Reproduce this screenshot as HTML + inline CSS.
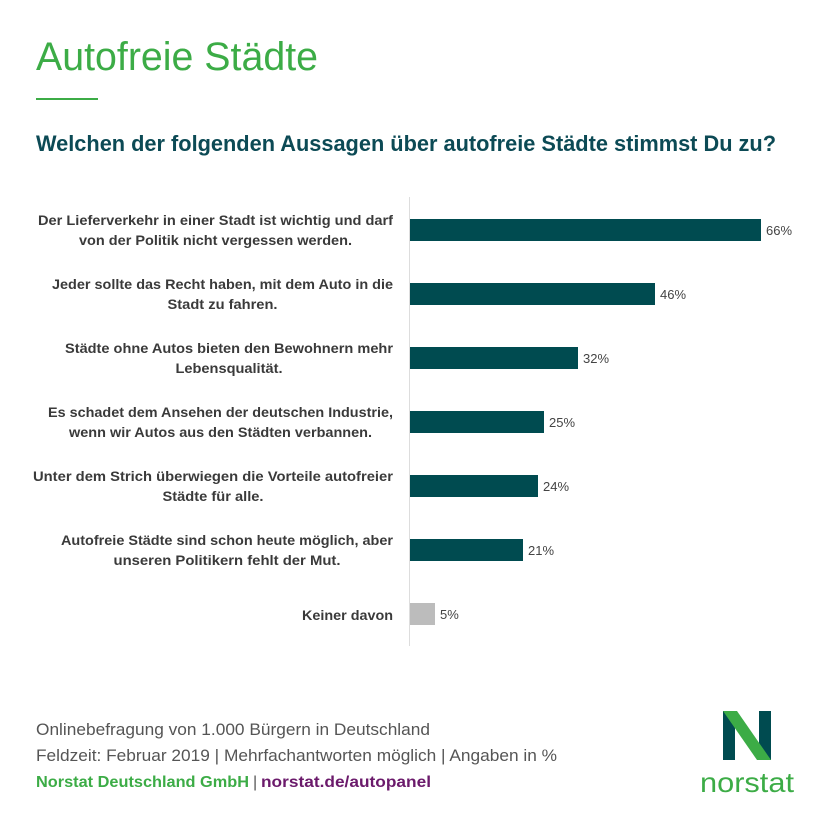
<!DOCTYPE html>
<html><head><meta charset="utf-8"><style>
html,body{margin:0;padding:0;background:#fff;}
svg{display:block;}
</style></head><body>
<svg width="819" height="820" xmlns="http://www.w3.org/2000/svg" font-family="'Liberation Sans Narrow','Liberation Sans',sans-serif">
<rect width="819" height="820" fill="#fff"/>
<text x="36" y="70" font-size="40" fill="#3cac46" textLength="282" lengthAdjust="spacingAndGlyphs">Autofreie Städte</text>
<rect x="36" y="98" width="62" height="2" fill="#3cac46"/>
<text x="36" y="151" font-size="22" font-weight="bold" fill="#0c4a55" textLength="740" lengthAdjust="spacingAndGlyphs">Welchen der folgenden Aussagen über autofreie Städte stimmst Du zu?</text>
<line x1="409.5" y1="197" x2="409.5" y2="646" stroke="#ddd" stroke-width="1"/>
<g font-size="14" font-weight="bold" fill="#3a3a3a" text-anchor="middle">
<text x="215.5" y="225" textLength="355" lengthAdjust="spacingAndGlyphs">Der Lieferverkehr in einer Stadt ist wichtig und darf</text>
<text x="215.5" y="245" textLength="273" lengthAdjust="spacingAndGlyphs">von der Politik nicht vergessen werden.</text>
<text x="222.5" y="289" textLength="341" lengthAdjust="spacingAndGlyphs">Jeder sollte das Recht haben, mit dem Auto in die</text>
<text x="222.5" y="309" textLength="110" lengthAdjust="spacingAndGlyphs">Stadt zu fahren.</text>
<text x="229" y="353" textLength="328" lengthAdjust="spacingAndGlyphs">Städte ohne Autos bieten den Bewohnern mehr</text>
<text x="229" y="373" textLength="107" lengthAdjust="spacingAndGlyphs">Lebensqualität.</text>
<text x="220.5" y="417" textLength="345" lengthAdjust="spacingAndGlyphs">Es schadet dem Ansehen der deutschen Industrie,</text>
<text x="220.5" y="437" textLength="303" lengthAdjust="spacingAndGlyphs">wenn wir Autos aus den Städten verbannen.</text>
<text x="213" y="481" textLength="360" lengthAdjust="spacingAndGlyphs">Unter dem Strich überwiegen die Vorteile autofreier</text>
<text x="213" y="501" textLength="101" lengthAdjust="spacingAndGlyphs">Städte für alle.</text>
<text x="227" y="545" textLength="332" lengthAdjust="spacingAndGlyphs">Autofreie Städte sind schon heute möglich, aber</text>
<text x="227" y="565" textLength="227" lengthAdjust="spacingAndGlyphs">unseren Politikern fehlt der Mut.</text>
<text x="347.5" y="620" textLength="91" lengthAdjust="spacingAndGlyphs">Keiner davon</text>
</g>
<g fill="#004b50">
<rect x="410" y="219" width="351" height="22"/>
<rect x="410" y="283" width="245" height="22"/>
<rect x="410" y="347" width="168" height="22"/>
<rect x="410" y="411" width="134" height="22"/>
<rect x="410" y="475" width="128" height="22"/>
<rect x="410" y="539" width="113" height="22"/>
</g>
<rect x="410" y="603" width="25" height="22" fill="#bcbcbc"/>
<g font-size="13" fill="#444">
<text x="766" y="235">66%</text>
<text x="660" y="299">46%</text>
<text x="583" y="363">32%</text>
<text x="549" y="427">25%</text>
<text x="543" y="491">24%</text>
<text x="528" y="555">21%</text>
<text x="440" y="619">5%</text>
</g>
<g font-size="17" fill="#555">
<text x="36" y="735" textLength="394" lengthAdjust="spacingAndGlyphs">Onlinebefragung von 1.000 Bürgern in Deutschland</text>
<text x="36" y="761" textLength="521" lengthAdjust="spacingAndGlyphs">Feldzeit: Februar 2019 | Mehrfachantworten möglich | Angaben in %</text>
</g>
<text x="36" y="787" font-size="16" font-weight="bold" fill="#3cac46" textLength="213" lengthAdjust="spacingAndGlyphs">Norstat Deutschland GmbH</text>
<text x="253" y="787" font-size="16" fill="#555">|</text>
<text x="261" y="787" font-size="16" font-weight="bold" fill="#6b1a6b" textLength="170" lengthAdjust="spacingAndGlyphs">norstat.de/autopanel</text>
<rect x="723" y="711" width="12" height="49" fill="#004b50"/>
<rect x="759" y="711" width="12" height="49" fill="#004b50"/>
<polygon points="723,711 737,711 771,760 757,760" fill="#3cac46"/>
<text x="700" y="792" font-size="28" fill="#3cac46" textLength="94" lengthAdjust="spacingAndGlyphs">norstat</text>
</svg>
</body></html>
